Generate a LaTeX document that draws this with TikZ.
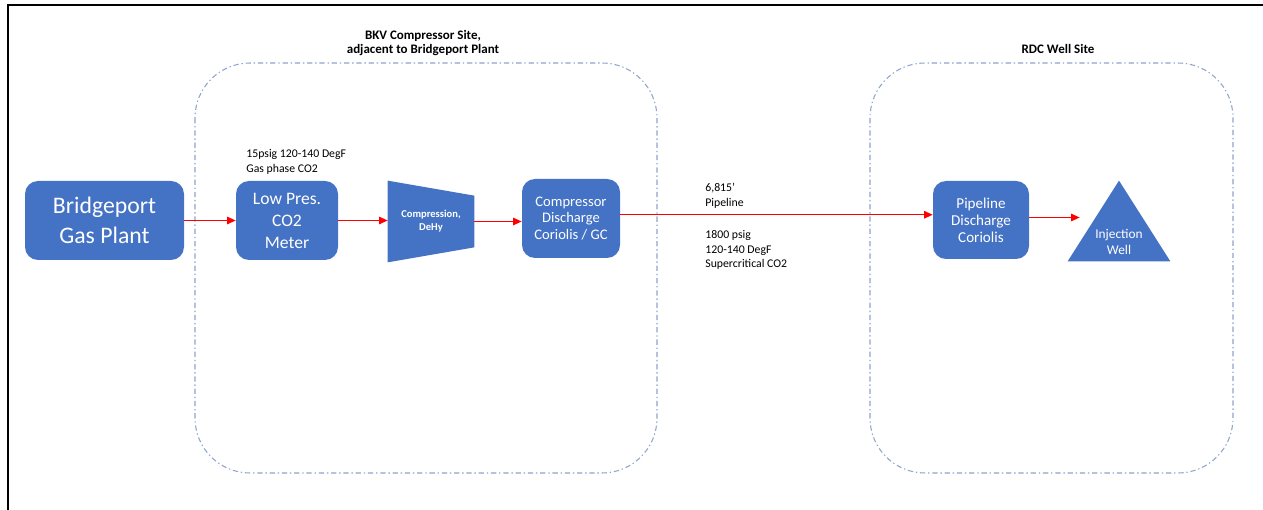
\documentclass[tikz,border=0pt]{standalone}
\usepackage{fontspec}
\setmainfont{Carlito}
\usetikzlibrary{arrows.meta}

\definecolor{unitblue}{RGB}{68,114,196}
\definecolor{sitegray}{RGB}{143,163,204}

\begin{document}
\begin{tikzpicture}[>={Triangle[length=4.8pt,width=4.2pt]},
    unit/.style={fill=unitblue,text=white,rounded corners=0.26cm,align=center,
      inner sep=0pt},
    site/.style={draw=sitegray,line width=0.6pt,rounded corners=1.1cm,
      dash pattern=on 3pt off 1.6pt on 0.8pt off 1.6pt},
    flow/.style={->,red,line width=0.7pt},
    note/.style={align=left,anchor=west,inner sep=0pt,font=\fontsize{6.7}{8.3}\selectfont},
    sitename/.style={font=\bfseries\fontsize{7.4}{7.9}\selectfont,align=center}]
      \useasboundingbox (0,0) rectangle (25.26,-10.2);
      \draw [line width=1.1pt] (0.16,-10.2) -- (0.16,-0.1) -- (25.26,-0.1);
      % the two sites
      \draw [site] (3.9,-1.26) rectangle (13.14,-9.46);
      \draw [site] (17.4,-1.26) rectangle (24.66,-9.46);
      \node [sitename] (bkv) at (8.46,-0.86) {BKV Compressor Site,\\adjacent to Bridgeport Plant};
      \node [sitename] (rdc) at (21.16,-0.98) {RDC Well Site};
      % process units
      \node [unit,minimum width=3.18cm,minimum height=1.58cm,
        font=\fontsize{13.5}{17}\selectfont] (plant) at (2.09,-4.41) {Bridgeport\\Gas Plant};
      \node [unit,minimum width=2.04cm,minimum height=1.58cm,
        font=\fontsize{10}{12.5}\selectfont] (meter) at (5.74,-4.41) {Low Pres.\\CO2\\Meter};
      \path node [minimum width=1.72cm,minimum height=1.62cm] (comp) at (8.62,-4.43) {};
      \fill [unitblue] (comp.north west) -- ([yshift=-0.3cm]comp.north east)
        -- ([yshift=0.3cm]comp.south east) -- (comp.south west) -- cycle;
      \node [text=white,align=center,font=\bfseries\fontsize{6}{7.4}\selectfont]
        at (comp) {Compression,\\DeHy};
      \node [unit,minimum width=1.96cm,minimum height=1.58cm,
        font=\fontsize{8.3}{9.6}\selectfont] (cdisch) at (11.42,-4.37) {Compressor\\Discharge\\Coriolis / GC};
      \node [unit,minimum width=1.92cm,minimum height=1.56cm,
        font=\fontsize{8.6}{9.6}\selectfont] (pdisch) at (19.62,-4.4) {Pipeline\\Discharge\\Coriolis};
      \path node [minimum width=2.04cm,minimum height=1.6cm] (well) at (22.38,-4.42) {};
      \fill [unitblue] (well.south west) -- (well.north) -- (well.south east) -- cycle;
      \node [text=white,align=center,font=\fontsize{7.6}{9}\selectfont]
        at ([yshift=-0.42cm]well.center) {Injection\\Well};
      \coordinate (wellin) at ([xshift=0.24cm,yshift=0.07cm]well.west);
      \coordinate (pipeout) at ([yshift=0.075cm]cdisch.east);
      % flow lines
      \draw [flow] (plant.east) -- (meter.west);
      \draw [flow] (meter.east) -- (meter.east -| comp.west);
      \draw [flow] (comp.east) -- (comp.east -| cdisch.west);
      \draw [flow] (pipeout) -- (pipeout -| pdisch.west);
      \draw [flow] (wellin -| pdisch.east) -- (wellin);
      % conditions
      \node [note] (lowp) at (4.92,-3.24) {15psig 120-140 DegF\\Gas phase CO2};
      \node [note] (pipe) at (14.1,-3.92) {6,815’\\Pipeline};
      \node [note] (hip) at (14.1,-5.0) {1800 psig\\120-140 DegF\\Supercritical CO2};
    \end{tikzpicture}
\end{document}
